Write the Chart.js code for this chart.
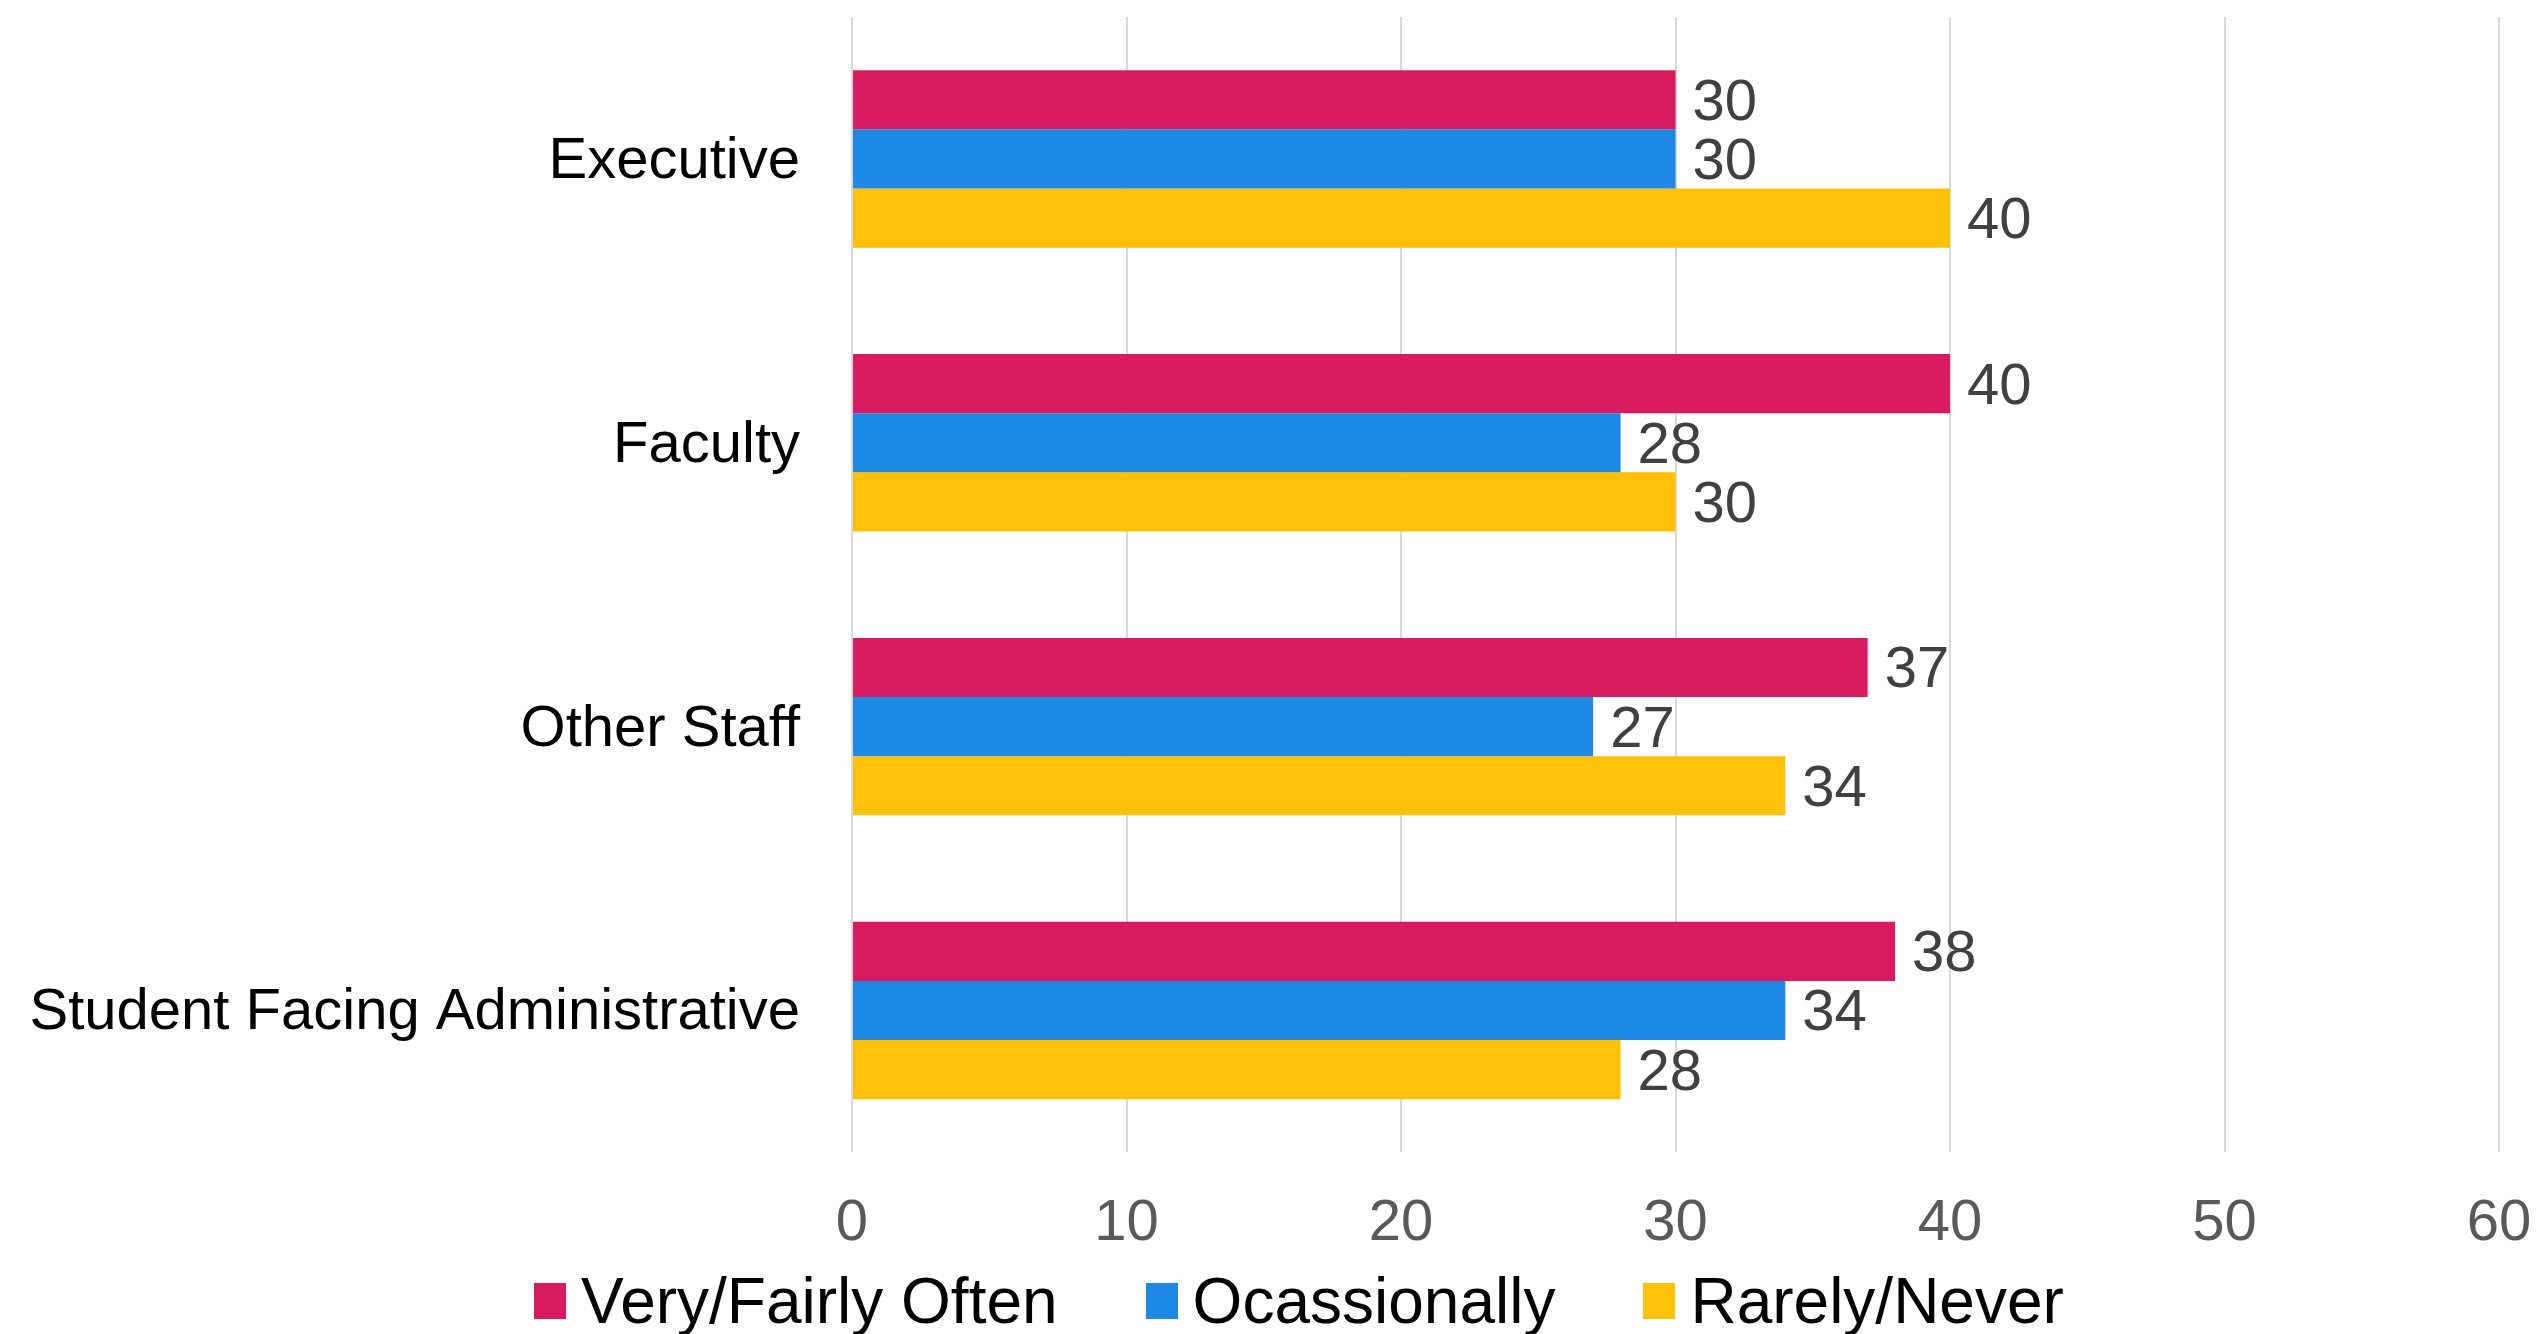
<!DOCTYPE html>
<html>
<head>
<meta charset="utf-8">
<script src="https://cdn.jsdelivr.net/npm/chart.js@4.4.1/dist/chart.umd.min.js"></script>
<style>
  html, body { margin: 0; padding: 0; background: #fff; }
  #wrap { width: 2538px; height: 1334px; position: relative; }
  #legend {
    position: absolute; left: 534px; top: 1261px; height: 80px;
    display: flex; align-items: center;
    font-family: 'Liberation Sans', Arial, sans-serif; font-size: 64px; color: #000;
    white-space: nowrap;
  }
  .legend-item { display: flex; align-items: center; margin-right: 88px; }
  .legend-box { width: 32px; height: 36px; margin-right: 15px; }
</style>
</head>
<body>
<div id="wrap">
  <canvas id="chart"></canvas>
  <div id="legend"></div>
</div>
<script>
const categories = ['Executive', 'Faculty', 'Other Staff', 'Student Facing Administrative'];
const veryOften    = [30, 40, 37, 38];
const occasionally = [30, 28, 27, 34];
const rarelyNever  = [40, 30, 34, 28];
const xTicks = [0, 10, 20, 30, 40, 50, 60];

const COLORS = {
  pink:   '#D81B60',
  blue:   '#1E88E5',
  yellow: '#FFC107',
};

const FONT = "'Liberation Sans', Arial, sans-serif";

Chart.defaults.font.family = FONT;

// draws the value just past the end of every bar
const valueLabels = {
  id: 'valueLabels',
  afterDatasetsDraw(chart) {
    const ctx = chart.ctx;
    ctx.save();
    ctx.font = '58px ' + FONT;
    ctx.fillStyle = '#404040';
    ctx.textAlign = 'left';
    ctx.textBaseline = 'middle';
    chart.data.datasets.forEach((ds, i) => {
      chart.getDatasetMeta(i).data.forEach((bar, j) => {
        ctx.fillText(String(ds.data[j]), bar.x + 17, bar.y + 4);
      });
    });
    ctx.restore();
  }
};

const chart = new Chart(document.getElementById('chart'), {
  type: 'bar',
  data: {
    labels: categories,
    datasets: [
      { label: 'Very/Fairly Often', data: veryOften, backgroundColor: COLORS.pink },
      { label: 'Ocassionally', data: occasionally, backgroundColor: COLORS.blue },
      { label: 'Rarely/Never', data: rarelyNever, backgroundColor: COLORS.yellow },
    ]
  },
  options: {
    indexAxis: 'y',
    responsive: true,
    maintainAspectRatio: false,
    animation: false,
    datasets: { bar: { categoryPercentage: 0.625, barPercentage: 1.0, borderWidth: 0 } },
    layout: { padding: { top: 17, left: 0, right: 39, bottom: 75 } },
    plugins: {
      tooltip: { enabled: false },
      legend: { display: false }
    },
    scales: {
      x: {
        min: 0,
        max: 60,
        afterBuildTicks: (scale) => { scale.ticks = xTicks.map(v => ({ value: v })); },
        grid: { color: '#d9d9d9', lineWidth: 2, drawTicks: true, tickLength: 37, tickColor: 'rgba(0,0,0,0)' },
        border: { display: false },
        ticks: { color: '#595959', padding: 0, font: { size: 58, family: FONT } }
      },
      y: {
        grid: { display: false, drawTicks: true, tickLength: 52 },
        border: { display: false },
        afterFit: (scale) => { scale.width = 852; },
        ticks: { color: '#000', padding: 0, labelOffset: 3, font: { size: 58, family: FONT, lineHeight: 0.5 } }
      }
    }
  },
  plugins: [valueLabels]
});

// legend built from the chart's own datasets
const legendEl = document.getElementById('legend');
chart.data.datasets.forEach(ds => {
  const item = document.createElement('div');
  item.className = 'legend-item';
  const box = document.createElement('span');
  box.className = 'legend-box';
  box.style.background = ds.backgroundColor;
  const label = document.createElement('span');
  label.textContent = ds.label;
  item.appendChild(box);
  item.appendChild(label);
  legendEl.appendChild(item);
});
</script>
</body>
</html>
